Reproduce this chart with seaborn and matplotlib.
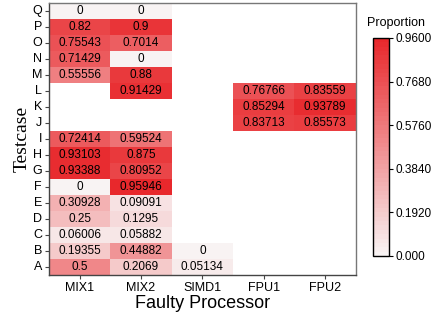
import numpy as np
import pandas as pd
import matplotlib
matplotlib.use("Agg")
import matplotlib.pyplot as plt
import seaborn as sns
from matplotlib.colors import LinearSegmentedColormap

nan = np.nan
rows = ["Q", "P", "O", "N", "M", "L", "K", "J", "I", "H", "G", "F", "E", "D", "C", "B", "A"]
cols = ["MIX1", "MIX2", "SIMD1", "FPU1", "FPU2"]
mix1 = [0, 0.82, 0.75543, 0.71429, 0.55556, nan, nan, nan, 0.72414, 0.93103, 0.93388, 0, 0.30928, 0.25, 0.06006, 0.19355, 0.5]
mix2 = [0, 0.9, 0.7014, 0, 0.88, 0.91429, nan, nan, 0.59524, 0.875, 0.80952, 0.95946, 0.09091, 0.1295, 0.05882, 0.44882, 0.2069]
simd1 = [nan] * 15 + [0, 0.05134]
fpu1 = [nan] * 5 + [0.76766, 0.85294, 0.83713] + [nan] * 9
fpu2 = [nan] * 5 + [0.83559, 0.93789, 0.85573] + [nan] * 9
cbar_ticks = [0.0, 0.192, 0.384, 0.576, 0.768, 0.96]
cbar_labels = ["0.000", "0.1920", "0.3840", "0.5760", "0.7680", "0.9600"]

df = pd.DataFrame({"MIX1": mix1, "MIX2": mix2, "SIMD1": simd1, "FPU1": fpu1, "FPU2": fpu2}, index=rows)

plt.rcParams['font.family'] = ['Liberation Sans', 'DejaVu Sans']
cmap = LinearSegmentedColormap.from_list("wr", ["#f8f3f3", "#e8282c"], N=50)

fig = plt.figure(figsize=(4.35, 3.22), dpi=100)
ax = fig.add_axes([0.1126, 0.146, 0.7054, 0.845])
cax = fig.add_axes([0.8575, 0.205, 0.0368, 0.677])

sns.heatmap(df, ax=ax, cbar_ax=cax, cmap=cmap, vmin=0, vmax=0.96,
            annot=True, fmt="g", annot_kws={"fontsize": 8.5, "color": "black"})

for s in ax.spines.values():
    s.set_visible(True)
    s.set_color("#777777")
    s.set_linewidth(1.0)
ax.spines["left"].set_color("#444444")
ax.spines["bottom"].set_color("#444444")
ax.tick_params(axis="both", length=3, width=0.8, color="#444444", labelsize=9, pad=2)
ax.set_yticklabels(rows, rotation=0)
ax.set_xticklabels(cols, rotation=0)
ax.set_xlabel("Faulty Processor", fontsize=13, labelpad=1)
ax.set_ylabel("Testcase", fontsize=14, family=["Liberation Serif"], labelpad=1)

cbar = ax.collections[0].colorbar
cbar.outline.set_visible(True)
cbar.outline.set_edgecolor("black")
cbar.outline.set_linewidth(1.0)
cax.set_yticks(cbar_ticks)
cax.set_yticklabels(cbar_labels)
cax.tick_params(labelsize=8.5, length=3, width=0.8, pad=2)
fig.text(367 / 435, 1 - 23 / 322, "Proportion", fontsize=9, ha="left", va="center")

fig.savefig("out.png", dpi=100)
